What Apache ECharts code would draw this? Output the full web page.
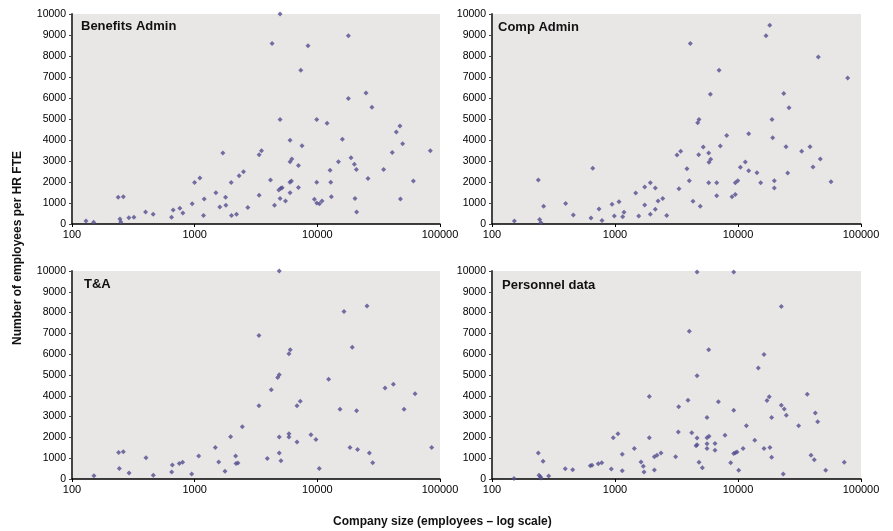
<!DOCTYPE html>
<html><head><meta charset="utf-8">
<script src="https://cdn.jsdelivr.net/npm/echarts@6/dist/echarts.min.js"></script>
<style>html,body{margin:0;padding:0;background:#fff}#c{width:893px;height:531px}</style>
</head><body><div id="c"></div>
<script>
// Panel titles
const panelTitles = ["Benefits Admin", "Comp Admin", "T&A", "Personnel data"];
const xTicks = [100, 1000, 10000, 100000];
const yTicks = [0,1000,2000,3000,4000,5000,6000,7000,8000,9000,10000];

// Benefits Admin: company size, employees per HR FTE
const benefitsSize = [130,150,238,262,246,250,291,320,398,459,648,668,757,801,955,998,1103,1196,1181,1489,1604,1698,1786,1796,1985,1997,2193,2305,2500,2712,3352,3352,3508,4150,4277,4473,4970,4970,4853,5038,5163,4970,5500,5997,5997,6194,5980,6152,5997,7015,7015,7330,7503,8395,9463,9886,9886,9886,10400,10920,12000,12700,12860,13020,14860,16000,17910,17910,18820,20050,20290,20800,20920,24930,25880,27880,34720,40830,44020,47130,49560,47600,60680,83420];
const benefitsFte  = [140,80,1270,1300,240,95,300,320,570,460,320,670,750,520,970,1980,2190,1190,400,1490,810,3380,1270,890,1980,400,460,2300,2490,780,3300,1370,3490,2100,8590,890,10000,4980,1620,1700,1730,1210,1100,3990,2970,3100,1985,2050,1490,2790,1740,7320,3730,8490,1180,4980,1985,1000,970,1100,4800,2560,1985,1300,2970,4030,8970,5980,3160,2840,1210,2600,570,6240,2170,5560,2590,3410,4380,4670,3820,1190,2050,3490];

// Comp Admin
const compSize = [152,238,244,250,263,397,458,638,659,741,784,946,987,1078,1155,1184,1473,1559,1743,1743,1937,1937,2128,2128,2239,2444,2633,3192,3420,3311,3846,4018,4094,4306,4700,4820,4790,4935,5220,5775,5808,5997,5775,5960,6714,6714,7015,7185,8091,8937,9508,9508,9950,10450,11470,12210,12210,14250,15300,16900,18120,18890,19150,19730,19730,23540,24560,25340,25990,32960,38480,40700,44970,46690,57020,77950];
const compFte  = [140,2100,220,60,840,980,430,290,2650,710,170,940,380,1060,350,560,1480,380,1760,900,1970,460,1710,700,1100,1220,410,3290,3460,1680,2630,2060,8590,1080,4820,4980,3300,840,3670,3380,2940,3080,1970,6180,1970,1350,7320,3710,4210,1300,1400,1970,2060,2700,2950,4300,2540,2440,1970,8970,9460,4980,4110,2060,1710,6220,3680,2430,5540,3460,3680,2710,7950,3100,2010,6950];

// T&A
const taSize = [151,240,262,243,292,401,460,650,658,750,798,946,1079,1473,1570,1767,1965,2158,2172,2254,2445,3342,3342,3909,4210,4750,4894,4894,4894,4894,5050,5870,6017,5870,5870,6826,7260,6826,8873,9743,10370,12360,15300,16500,18470,19270,20890,21290,25400,26550,28270,35650,41690,50920,62620,85560];
const taFte  = [160,1280,1310,510,290,1020,180,340,670,750,800,240,1100,1520,820,370,2030,1100,740,770,2510,6900,3520,980,4290,4880,5010,10000,2020,1250,880,6020,6210,2180,2020,3520,3740,1780,2130,1900,510,4790,3350,8050,1520,6340,3280,1420,8320,1250,780,4370,4550,3350,4100,1520];

// Personnel data
const persSize = [151,238,241,247,250,260,289,394,453,630,650,731,780,933,968,1057,1146,1146,1435,1627,1699,1721,1901,1901,2091,2091,2195,2365,3111,3271,3296,3921,4018,4207,4561,4646,4646,4646,4646,4820,5130,5600,5600,5600,5600,5808,5775,6500,6500,6923,7839,8720,9230,9230,9230,9508,9817,10130,10990,11700,13680,14630,16270,16270,17200,17950,18190,18770,18770,22490,22490,23780,24700,23330,31110,36570,39200,41690,42540,44460,51640,73100];
const persFte  = [20,1250,180,110,50,850,140,490,450,640,660,730,780,480,1980,2180,1190,400,1470,820,610,340,3970,1980,430,1070,1140,1250,1070,2260,3470,3790,7100,2220,1600,1970,4960,1650,9950,800,540,2960,1980,1700,1470,2060,6210,1710,1380,3710,2100,780,9950,3310,1230,1260,1300,420,1470,2560,1860,5340,5990,1470,3780,3950,1520,2960,1040,8290,3550,3360,3070,240,2560,4070,1140,930,3170,2750,420,800];

const sizes = [benefitsSize, compSize, taSize, persSize];
const ftes = [benefitsFte, compFte, taFte, persFte];

const FONT = '"Liberation Sans", Arial, sans-serif';
const grids = [
  {left: 72, top: 14, width: 368, height: 210},
  {left: 492, top: 14, width: 369, height: 210},
  {left: 72, top: 271, width: 368, height: 208},
  {left: 492, top: 271, width: 369, height: 208}
];
const titlePos = [[81, 20], [498, 21], [84, 278], [502, 279]];

const option = {
  animation: false,
  backgroundColor: '#ffffff',
  grid: grids.map(g => Object.assign({show: true, backgroundColor: '#e9e6e6', borderWidth: 0}, g)),
  xAxis: grids.map((g, i) => ({
    type: 'log', logBase: 10, gridIndex: i,
    min: xTicks[0], max: xTicks[xTicks.length - 1],
    axisLine: {show: true, onZero: false, lineStyle: {color: '#000', width: 1.5}},
    axisTick: {show: true, length: 3, lineStyle: {color: '#000'}},
    axisLabel: {fontFamily: FONT, fontSize: 11, color: '#000', margin: 5,
      formatter: v => String(Math.round(v))},
    splitLine: {show: false}
  })),
  yAxis: grids.map((g, i) => ({
    type: 'value', gridIndex: i, min: yTicks[0], max: yTicks[yTicks.length - 1], interval: 1000,
    axisLine: {show: true, lineStyle: {color: '#444', width: 2}},
    axisTick: {show: true, length: 3, lineStyle: {color: '#444'}},
    axisLabel: {fontFamily: FONT, fontSize: 10.5, color: '#000', margin: 6,
      formatter: v => String(Math.round(v))},
    splitLine: {show: false}
  })),
  series: sizes.map((s, i) => ({
    type: 'scatter', xAxisIndex: i, yAxisIndex: i,
    symbol: 'diamond', symbolSize: 5,
    itemStyle: {color: '#524f8e'},
    data: s.map((x, j) => [x, ftes[i][j]])
  })),
  graphic: [
    ...panelTitles.map((t, i) => ({
      type: 'text', left: titlePos[i][0], top: titlePos[i][1],
      style: {text: t, font: 'bold 13px ' + FONT, fill: '#111'}
    })),
    {type: 'text', left: 333, top: 516,
     style: {text: 'Company size (employees \u2013 log scale)', font: 'bold 12px ' + FONT, fill: '#111'}},
    {type: 'text', rotation: Math.PI / 2, x: 12, y: 345,
     style: {text: 'Number of employees per HR FTE', font: 'bold 12px ' + FONT, fill: '#111'}}
  ]
};
const chart = echarts.init(document.getElementById('c'), null, {renderer: 'canvas'});
chart.setOption(option);
</script></body></html>
